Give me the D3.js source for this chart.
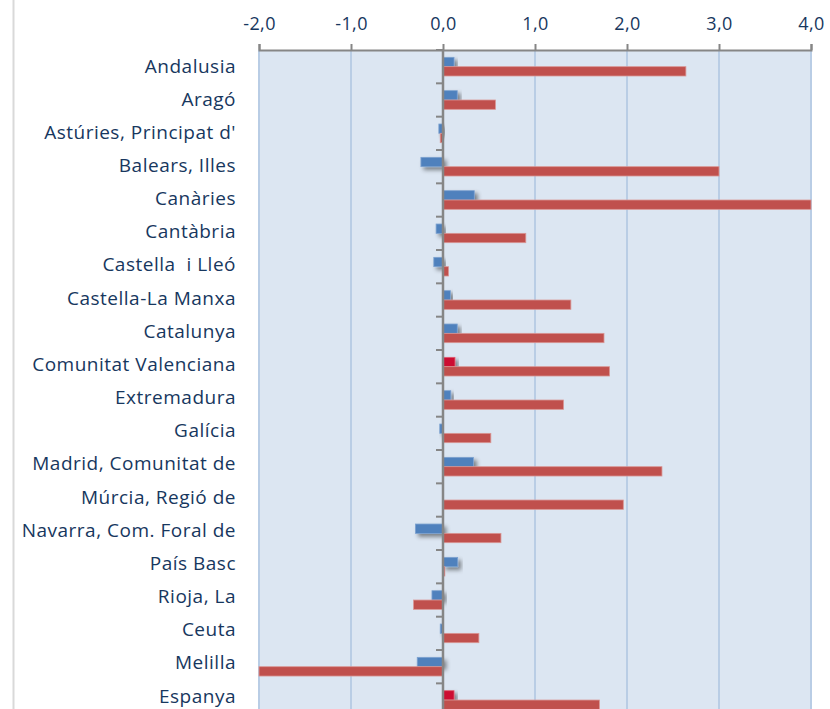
<!DOCTYPE html>
<html><head><meta charset="utf-8">
<script src="https://cdnjs.cloudflare.com/ajax/libs/d3/7.8.5/d3.min.js"></script>
<style>body{margin:0;background:#fff}svg{display:block}</style>
</head><body>
<script>
const categories = ["Andalusia","Aragó","Astúries, Principat d'","Balears, Illes","Canàries","Cantàbria","Castella  i Lleó","Castella-La Manxa","Catalunya","Comunitat Valenciana","Extremadura","Galícia","Madrid, Comunitat de","Múrcia, Regió de","Navarra, Com. Foral de","País Basc","Rioja, La","Ceuta","Melilla","Espanya"];
const seriesA = [0.12,0.155,-0.045,-0.24,0.34,-0.075,-0.10,0.08,0.155,0.13,0.085,-0.035,0.33,0,-0.30,0.16,-0.12,-0.03,-0.28,0.12];
const seriesB = [2.64,0.57,-0.03,3.0,4.0,0.9,0.06,1.39,1.75,1.81,1.31,0.52,2.38,1.96,0.63,0.02,-0.32,0.39,-2.0,1.70];
const highlighted = ["Comunitat Valenciana","Espanya"];
const xTicks = [-2,-1,0,1,2,3,4];

(function(){
const W=830,H=709;
const svg=d3.select("body").append("svg").attr("width",W).attr("height",H);
const defs=svg.append("defs");
const f=defs.append("filter").attr("id","sh").attr("x","-20%").attr("y","-50%").attr("width","150%").attr("height","250%");
f.append("feDropShadow").attr("dx",3).attr("dy",3).attr("stdDeviation",2).attr("flood-color","#000").attr("flood-opacity",0.45);

const pL=259,pR=811,pT=50,pB=716.7;
const x=d3.scaleLinear().domain([-2,4]).range([pL,pR]);
const y=d3.scaleBand().domain(categories).range([pT,pB]).paddingInner(0.44).paddingOuter(0.22);
const sub=d3.scaleBand().domain(["a","b"]).range([0,y.bandwidth()]);
const yLab=d3.scalePoint().domain(categories).range([72.5,702.5]);

svg.append("line").attr("x1",13.5).attr("x2",13.5).attr("y1",0).attr("y2",H).attr("stroke","#d9d9d9").attr("stroke-width",2);

svg.append("rect").attr("x",pL).attr("y",pT).attr("width",pR-pL).attr("height",pB-pT).attr("fill","#dce6f2");

svg.append("g").selectAll("line").data(xTicks.filter(d=>d!==0)).join("line")
  .attr("x1",d=>x(d)).attr("x2",d=>x(d)).attr("y1",pT).attr("y2",pB)
  .attr("stroke","#b9cde5").attr("stroke-width",2);

const ax=svg.append("g").attr("transform",`translate(0,${pT})`)
  .call(d3.axisTop(x).tickValues(xTicks).tickSize(6).tickPadding(14).tickFormat(d=>d3.format(".1f")(d).replace(".",",").replace("−","-")));
ax.select(".domain").attr("stroke","#868686").attr("stroke-width",2);
ax.selectAll(".tick line").attr("stroke","#868686").attr("stroke-width",2);
ax.selectAll("text").attr("fill","#17375e").style("font-family","'Open Sans', sans-serif").style("font-size","18px").style("letter-spacing","0.4px");

const g=svg.append("g");
categories.forEach((c,i)=>{
  const a=seriesA[i], b=seriesB[i];
  const hl=highlighted.includes(c);
  g.append("rect").attr("x",x(Math.min(0,a))).attr("y",y(c)+sub("a"))
    .attr("width",Math.abs(x(a)-x(0))).attr("height",sub.bandwidth())
    .attr("fill",hl?"#cc1133":"#4f81bd")
    .attr("stroke",hl?"#e05a6e":"#7da2d0").attr("stroke-width",0.8)
    .attr("filter",a!==0?"url(#sh)":null);
  g.append("rect").attr("x",x(Math.min(0,b))).attr("y",y(c)+sub("b"))
    .attr("width",Math.abs(x(b)-x(0))).attr("height",sub.bandwidth())
    .attr("fill","#c0504d").attr("stroke","#d99694").attr("stroke-width",0.8);
});

const ya=svg.append("g").attr("transform",`translate(${x(0)},0)`);
ya.append("line").attr("x1",0).attr("x2",0).attr("y1",pT).attr("y2",pB).attr("stroke","#868686").attr("stroke-width",2.5);
const bounds=categories.map(c=>y(c)-y.step()*y.paddingInner()/2).concat([pB]);
ya.selectAll("line.t").data(bounds).join("line").attr("class","t")
  .attr("x1",-7).attr("x2",0).attr("y1",d=>d).attr("y2",d=>d).attr("stroke","#868686").attr("stroke-width",2);

svg.append("g").selectAll("text").data(categories).join("text")
  .attr("x",236).attr("y",c=>yLab(c))
  .attr("text-anchor","end").attr("fill","#17375e")
  .style("font-family","'Open Sans', sans-serif").style("font-size","19px").style("letter-spacing","0.5px").style("white-space","pre")
  .text(c=>c);
})();
</script>
</body></html>
